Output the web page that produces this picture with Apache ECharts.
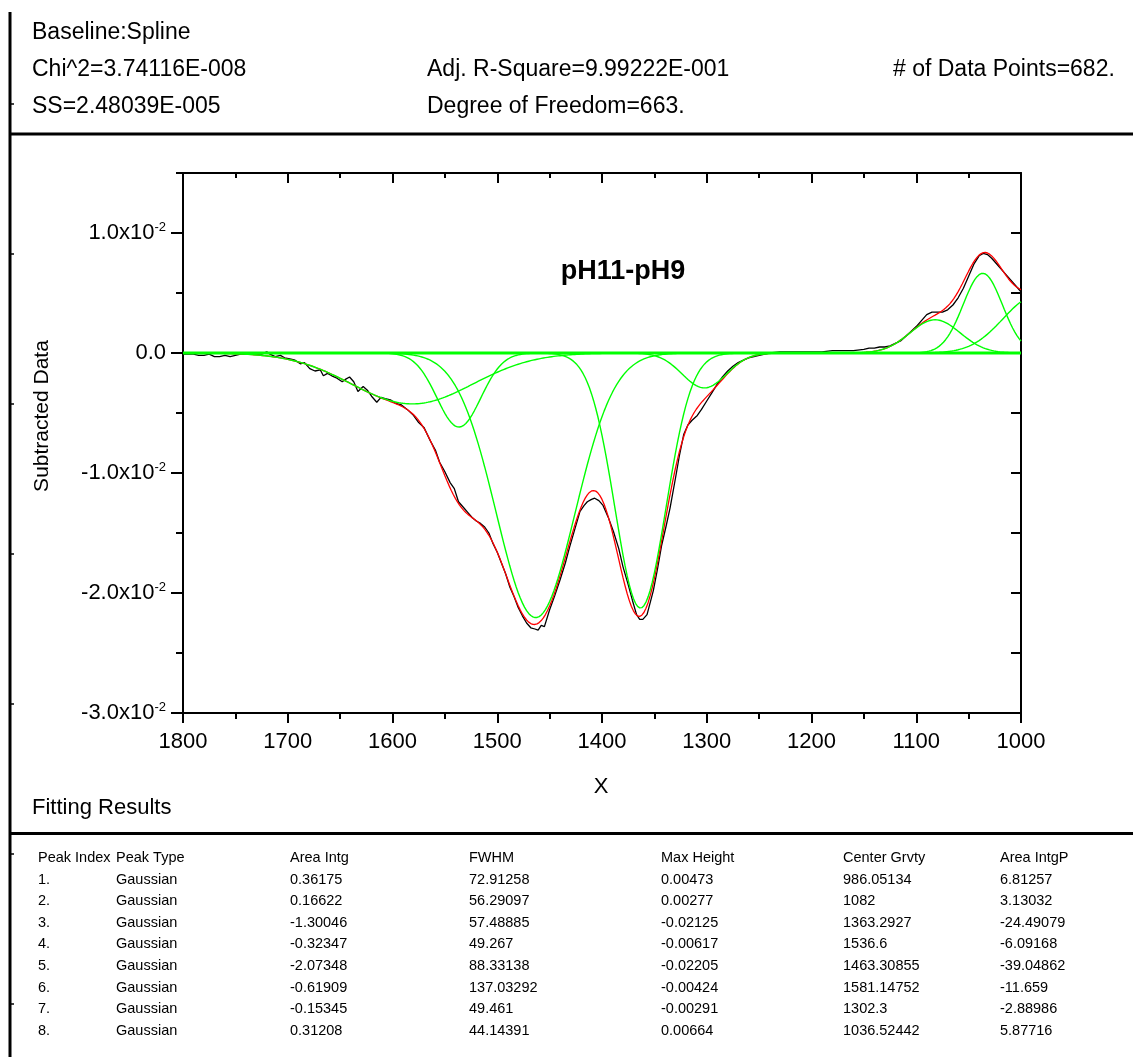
<!DOCTYPE html>
<html>
<head>
<meta charset="utf-8">
<title>pH11-pH9 peak fit</title>
<script src="https://cdn.jsdelivr.net/npm/echarts@6/dist/echarts.min.js"></script>
<style>
  html, body { margin: 0; padding: 0; background: #fff; }
  #chart { width: 1133px; height: 1057px; }
</style>
</head>
<body>
<div id="chart"></div>
<script>
// ---- Fit report values ----
const peakIndex   = ['1.', '2.', '3.', '4.', '5.', '6.', '7.', '8.'];
const peakType    = ['Gaussian', 'Gaussian', 'Gaussian', 'Gaussian', 'Gaussian', 'Gaussian', 'Gaussian', 'Gaussian'];
const areaIntg    = [0.36175, 0.16622, -1.30046, -0.32347, -2.07348, -0.61909, -0.15345, 0.31208];
const fwhm        = [72.91258, 56.29097, 57.48885, 49.267, 88.33138, 137.03292, 49.461, 44.14391];
const maxHeight   = [0.00473, 0.00277, -0.02125, -0.00617, -0.02205, -0.00424, -0.00291, 0.00664];
const centerGrvty = [986.05134, 1082, 1363.2927, 1536.6, 1463.30855, 1581.14752, 1302.3, 1036.52442];
const areaIntgP   = [6.81257, 3.13032, -24.49079, -6.09168, -39.04862, -11.659, -2.88986, 5.87716];

// ---- Measured (baseline-subtracted) spectrum ----
const dataX = [1800, 1795, 1790, 1785, 1780, 1775, 1770, 1765, 1760, 1755, 1750, 1745, 1740, 1735, 1730, 1725,
  1720, 1717, 1712, 1707, 1703, 1698, 1693, 1688, 1684, 1679, 1674, 1669, 1666, 1662, 1658, 1653, 1648, 1645,
  1641, 1637, 1633, 1628, 1624, 1620, 1615, 1611, 1607, 1602, 1597, 1592, 1586, 1580, 1575, 1570, 1564, 1559,
  1555, 1550, 1545, 1541, 1537, 1532, 1528, 1524, 1520, 1516, 1512, 1508, 1504, 1500, 1496, 1492, 1488, 1484,
  1480, 1476, 1472, 1468, 1464, 1461, 1458, 1455, 1450, 1445, 1440, 1435, 1431, 1426, 1421, 1417, 1414, 1410,
  1407, 1403, 1399, 1394, 1389, 1384, 1380, 1375, 1371, 1367, 1364, 1361, 1357, 1354, 1351, 1347, 1343, 1339,
  1335, 1330, 1326, 1322, 1318, 1314, 1309, 1305, 1300, 1295, 1290, 1285, 1280, 1275, 1270, 1265, 1260, 1255,
  1250, 1240, 1230, 1220, 1210, 1200, 1190, 1180, 1170, 1160, 1150, 1145, 1140, 1135, 1130, 1125, 1120, 1115,
  1110, 1105, 1100, 1095, 1090, 1085, 1080, 1075, 1070, 1065, 1060, 1055, 1050, 1045, 1040, 1036, 1032, 1028,
  1024, 1020, 1016, 1012, 1008, 1004, 1000];
const dataY = [-0.0001, -0.0001, -0.0001, -0.0002, -0.0002, -0.0001, -0.0003, -0.0003, -0.0002, -0.0003, -0.0002,
  -0.0001, -0.0001, -0.0001, -0.0001, -0.0001, 0.0001, -0.0001, -0.0003, -0.0002, -0.0004, -0.0005, -0.0006,
  -0.0009, -0.0008, -0.0013, -0.0015, -0.0014, -0.0019, -0.0017, -0.0019, -0.0021, -0.0024, -0.0022, -0.0020,
  -0.0024, -0.0032, -0.0028, -0.0031, -0.0036, -0.0041, -0.0037, -0.0038, -0.0039, -0.0042, -0.0043, -0.0047,
  -0.0052, -0.0058, -0.0062, -0.0073, -0.0081, -0.0091, -0.0099, -0.0108, -0.0113, -0.0124, -0.0129, -0.0133,
  -0.0137, -0.0140, -0.0142, -0.0145, -0.0150, -0.0159, -0.0166, -0.0175, -0.0184, -0.0195, -0.0203, -0.0212,
  -0.0219, -0.0225, -0.0229, -0.0230, -0.0231, -0.0227, -0.0228, -0.0214, -0.0202, -0.0189, -0.0175, -0.0162,
  -0.0147, -0.0132, -0.0127, -0.0124, -0.0122, -0.0121, -0.0123, -0.0127, -0.0137, -0.0149, -0.0163, -0.0178,
  -0.0193, -0.0206, -0.0218, -0.0222, -0.0222, -0.0218, -0.0208, -0.0198, -0.0180, -0.0160, -0.0145, -0.0129,
  -0.0105, -0.0085, -0.0068, -0.0060, -0.0056, -0.0052, -0.0047, -0.0040, -0.0033, -0.0026, -0.0020, -0.0015,
  -0.0011, -0.0008, -0.0006, -0.0004, -0.0003, -0.0002, 0.0000, 0.0001, 0.0001, 0.0001, 0.0001, 0.0001, 0.0002,
  0.0002, 0.0002, 0.0003, 0.0004, 0.0004, 0.0005, 0.0005, 0.0006, 0.0008, 0.0010, 0.0014, 0.0018, 0.0022, 0.0027,
  0.0032, 0.0034, 0.0034, 0.0034, 0.0036, 0.0040, 0.0046, 0.0054, 0.0064, 0.0074, 0.0081, 0.0083, 0.0082, 0.0079,
  0.0075, 0.0071, 0.0067, 0.0063, 0.0059, 0.0055, 0.0051];

// Spline baseline after subtraction (flat at zero across the window)
const baselineX = [1000, 1800];
const baselineY = [0, 0];

// ---- Axis settings ----
const xTicks = [1800, 1700, 1600, 1500, 1400, 1300, 1200, 1100, 1000];
const yTicks = [-0.03, -0.02, -0.01, 0, 0.01];

const FONT = "'Liberation Sans', Arial, Helvetica, sans-serif";

// Gaussian peak profile from the fitted center, FWHM and height
function gaussianAt(x, c, w, h) {
  const d = (x - c) / w;
  return h * Math.exp(-4 * Math.LN2 * d * d);
}

const sampleX = [];
for (let x = 1000; x <= 1800; x += 2) sampleX.push(x);

const peakCurves = centerGrvty.map((c, i) =>
  sampleX.map(x => [x, gaussianAt(x, c, fwhm[i], maxHeight[i])]));

const fitCurve = sampleX.map((x, k) =>
  [x, peakCurves.reduce((s, curve) => s + curve[k][1], 0)]);

const measured = dataX.map((x, i) => [x, dataY[i]]);
const baseline = baselineX.map((x, i) => [x, baselineY[i]]);

// ---- Report frame and text ----
const graphics = [];
graphics.push({ type: 'line', silent: true, shape: { x1: 10, y1: 12, x2: 10, y2: 1057 }, style: { stroke: '#000', lineWidth: 3 } });
graphics.push({ type: 'line', silent: true, shape: { x1: 10, y1: 134, x2: 1133, y2: 134 }, style: { stroke: '#000', lineWidth: 3 } });
graphics.push({ type: 'line', silent: true, shape: { x1: 10, y1: 833.5, x2: 1133, y2: 833.5 }, style: { stroke: '#000', lineWidth: 3 } });
for (let y = 104; y < 1057; y += 150) {
  graphics.push({ type: 'line', silent: true, shape: { x1: 11, y1: y, x2: 14, y2: y }, style: { stroke: '#000', lineWidth: 1.5 } });
}

function addText(str, x, y, size, opts) {
  graphics.push(Object.assign({
    type: 'text', silent: true, x: x, y: y,
    style: Object.assign({ text: str, fontSize: size, fontFamily: FONT, fill: '#000', verticalAlign: 'middle', align: 'left' }, opts || {})
  }));
}

addText('Baseline:Spline', 32, 33, 23);
addText('Chi^2=3.74116E-008', 32, 70, 23);
addText('Adj. R-Square=9.99222E-001', 427, 70, 23);
addText('# of Data Points=682.', 893, 70, 23);
addText('SS=2.48039E-005', 32, 107, 23);
addText('Degree of Freedom=663.', 427, 107, 23);
addText('Fitting Results', 32, 808, 22);
addText('pH11-pH9', 623, 272, 27, { align: 'center', fontWeight: 'bold' });
addText('X', 601, 787, 22, { align: 'center' });
graphics.push({
  type: 'text', silent: true, x: 42, y: 416, rotation: Math.PI / 2,
  style: { text: 'Subtracted Data', fontSize: 21, fontFamily: FONT, fill: '#000', align: 'center', verticalAlign: 'middle' }
});

// Fit results table
const colX = [38, 116, 290, 469, 661, 843, 1000];
const headers = ['Peak Index', 'Peak Type', 'Area Intg', 'FWHM', 'Max Height', 'Center Grvty', 'Area IntgP'];
const rowY0 = 858, rowStep = 21.6;
headers.forEach((h, j) => addText(h, colX[j], rowY0, 14.5));
peakIndex.forEach((p, i) => {
  const cells = [p, peakType[i], String(areaIntg[i]), String(fwhm[i]), String(maxHeight[i]),
    String(centerGrvty[i]), String(areaIntgP[i])];
  cells.forEach((c, j) => addText(c, colX[j], rowY0 + rowStep * (i + 1), 14.5));
});

// ---- Chart ----
const axisLine = { show: true, onZero: false, lineStyle: { color: '#000', width: 2 } };
const tickStyle = { color: '#000', width: 2 };

const series = [
  { name: 'data', type: 'line', data: measured, showSymbol: false, symbol: 'none', z: 2,
    lineStyle: { color: '#000', width: 1.3 } },
  { name: 'fit', type: 'line', data: fitCurve, showSymbol: false, symbol: 'none', z: 3,
    lineStyle: { color: '#ff0000', width: 1.3 } },
  { name: 'baseline', type: 'line', data: baseline, showSymbol: false, symbol: 'none', z: 5,
    lineStyle: { color: '#00ff00', width: 3 } }
];
peakCurves.forEach((curve, i) => {
  series.push({ name: 'peak ' + peakIndex[i], type: 'line', data: curve, showSymbol: false, symbol: 'none', z: 4,
    lineStyle: { color: '#00ff00', width: 1.4 } });
});

const chart = echarts.init(document.getElementById('chart'), null, { renderer: 'canvas' });
chart.setOption({
  animation: false,
  backgroundColor: '#fff',
  grid: { left: 183, right: 112, top: 173, bottom: 344, containLabel: false, outerBoundsMode: 'none' },
  xAxis: [
    { type: 'value', position: 'bottom', min: 1000, max: 1800, interval: 100, inverse: true,
      axisLine: axisLine,
      axisTick: { show: true, inside: false, length: 10, lineStyle: tickStyle },
      minorTick: { show: true, splitNumber: 2, length: 6, lineStyle: tickStyle },
      axisLabel: { show: true, margin: 18, fontSize: 22, fontFamily: FONT, color: '#000',
        customValues: xTicks, formatter: function (v) { return String(v); } },
      splitLine: { show: false }, minorSplitLine: { show: false } },
    { type: 'value', position: 'top', min: 1000, max: 1800, interval: 100, inverse: true,
      axisLine: axisLine,
      axisTick: { show: true, inside: true, length: 10, lineStyle: tickStyle },
      minorTick: { show: true, splitNumber: 2, length: 5, lineStyle: tickStyle },
      axisLabel: { show: false },
      splitLine: { show: false } }
  ],
  yAxis: [
    { type: 'value', position: 'left', min: -0.03, max: 0.015, interval: 0.005,
      axisLine: axisLine,
      axisTick: { show: true, inside: false, length: 7, lineStyle: tickStyle },
      axisLabel: { show: false },
      splitLine: { show: false } },
    { type: 'value', position: 'left', min: -0.03, max: 0.015, interval: 0.01,
      axisLine: { show: false },
      axisTick: { show: true, inside: false, length: 12, lineStyle: tickStyle, customValues: yTicks },
      axisLabel: { show: true, margin: 17, fontSize: 22, fontFamily: FONT, color: '#000',
        customValues: yTicks,
        formatter: function (v) {
          if (Math.abs(v) < 1e-9) return '0.0';
          return (v / 0.01).toFixed(1) + 'x10{sup|-2}';
        },
        rich: { sup: { fontSize: 13, fontFamily: FONT, color: '#000', padding: [0, 0, 12, 0] } } },
      splitLine: { show: false } },
    { type: 'value', position: 'right', min: -0.03, max: 0.015, interval: 0.005,
      axisLine: axisLine,
      axisTick: { show: true, inside: true, length: 10, lineStyle: tickStyle },
      axisLabel: { show: false },
      splitLine: { show: false } }
  ],
  graphic: graphics,
  series: series
});
</script>
</body>
</html>
